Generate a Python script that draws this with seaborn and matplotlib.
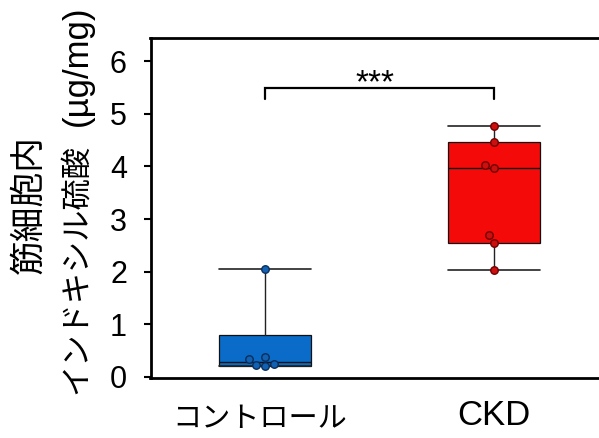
import numpy as np
import pandas as pd
import matplotlib
matplotlib.use("Agg")
import matplotlib.pyplot as plt
import matplotlib.transforms as mtransforms
import seaborn as sns

# Groups and measured values (µg/mg)
groups = ["コントロール", "CKD"]
control_values = [2.05, 0.38, 0.34, 0.24, 0.22, 0.20]
ckd_values = [4.76, 4.47, 4.03, 3.97, 2.69, 2.55, 2.04]
y_ticks = [0, 1, 2, 3, 4, 5, 6]
significance = "***"

box_colors = ["#0A6CC8", "#F50A0A"]
point_colors = ["#1262B4", "#CC1010"]
point_edges = ["#0B2D5A", "#700000"]

sns.set_style("ticks")
plt.rcParams["font.family"] = ["Liberation Sans", "Noto Sans CJK JP"]
plt.rcParams["text.color"] = "black"
plt.rcParams["xtick.color"] = "black"
plt.rcParams["ytick.color"] = "black"

W, H = 599, 438
fig = plt.figure(figsize=(W / 100, H / 100), dpi=100)
ax = fig.add_axes([150.5 / W, 60 / H, 458 / W, 340 / H])

df = pd.DataFrame({
    "group": [groups[0]] * len(control_values) + [groups[1]] * len(ckd_values),
    "value": control_values + ckd_values,
})


def box_stats(values):
    v = np.asarray(values, dtype=float)
    q1, med, q3 = np.percentile(v, [25, 50, 75], method="weibull")
    return dict(med=med, q1=q1, q3=q3, whislo=v.min(), whishi=v.max(), fliers=[])


stats = [box_stats(df.loc[df.group == g, "value"]) for g in groups]
bp = ax.bxp(stats, positions=[0, 1], widths=0.4, capwidths=0.4,
            patch_artist=True, showfliers=False,
            boxprops=dict(edgecolor="#111111", linewidth=0.9),
            whiskerprops=dict(color="#222222", linewidth=1.0),
            capprops=dict(color="#222222", linewidth=1.2),
            medianprops=dict(color="#111111", linewidth=1.0))
for patch, c in zip(bp["boxes"], box_colors):
    patch.set_facecolor(c)

for g, fc, ec in zip(groups, point_colors, point_edges):
    sns.swarmplot(data=df[df.group == g], x="group", y="value", order=groups,
                  color=fc, edgecolor=ec, linewidth=1.0, size=5.4, ax=ax,
                  zorder=5)

# significance bracket
ax.plot([0, 0, 1, 1], [5.28, 5.49, 5.49, 5.28], color="black", lw=1.6,
        solid_joinstyle="miter", clip_on=False)
ax.text(0.48, 5.40, significance, ha="center", va="baseline", fontsize=24)

ax.set_xlim(-0.5, 1.5)
ax.set_ylim(-0.02, 6.44)
ax.set_yticks(y_ticks)
ax.set_yticklabels([str(t) for t in y_ticks], fontsize=22, color="black")
ax.set_xticks([0, 1])
ax.set_xticklabels(groups, color="black")
ax.set_xlabel("")
ax.set_ylabel("")
ax.tick_params(axis="y", length=5, width=1.5, pad=12, color="black")
ax.tick_params(axis="x", length=0, pad=15)
xl = ax.get_xticklabels()
xl[0].set_fontsize(21)
xl[1].set_fontsize(25)
# nudge the Japanese category label slightly left and down
xl[0].set_transform(xl[0].get_transform() +
                    mtransforms.ScaledTranslation(-5 / 100, -6 / 100,
                                                  fig.dpi_scale_trans))

for side in ["left", "bottom", "top"]:
    ax.spines[side].set_visible(True)
    ax.spines[side].set_linewidth(2)
    ax.spines[side].set_color("black")
ax.spines["right"].set_visible(False)

# two-line y-axis title
fig.text(29 / W, 1 - 205 / H, "筋細胞内", rotation=90, ha="center",
         va="center", fontsize=25)
fig.text(77 / W, 1 - 394 / H, "インドキシル硫酸", rotation=90, ha="center",
         va="bottom", fontsize=22.5)
fig.text(77 / W, 1 - 5 / H, "(µg/mg)", rotation=90, ha="center",
         va="top", fontsize=25)

fig.savefig("out.png", dpi=100)
